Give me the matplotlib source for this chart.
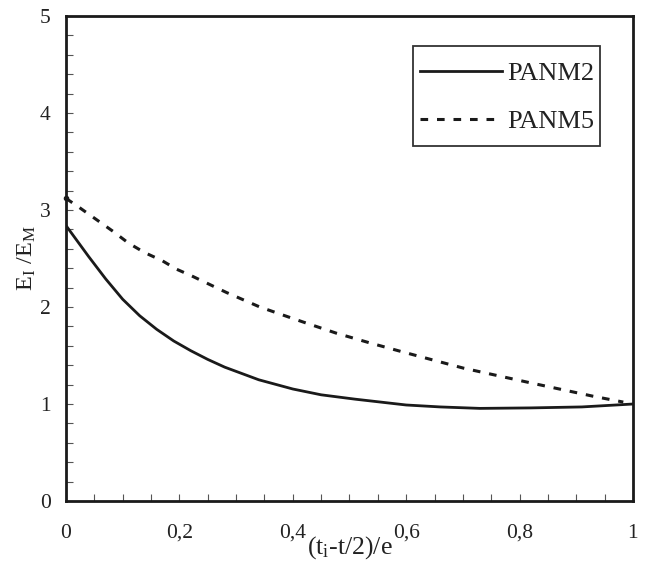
import matplotlib
matplotlib.use("Agg")
import matplotlib.pyplot as plt
from matplotlib.patches import Rectangle
from matplotlib.ticker import MultipleLocator, FuncFormatter

plt.rcParams['font.family'] = ['Liberation Serif', 'DejaVu Serif']
plt.rcParams['mathtext.fontset'] = 'custom'
plt.rcParams['mathtext.rm'] = 'Liberation Serif'
plt.rcParams['mathtext.it'] = 'Liberation Serif:italic'

# PANM2 (solid)
x_panm2 = [0.0, 0.02, 0.04, 0.07, 0.10, 0.13, 0.16, 0.19, 0.22, 0.25,
           0.28, 0.34, 0.40, 0.45, 0.51, 0.57, 0.60, 0.66, 0.73, 0.82,
           0.91, 1.0]
y_panm2 = [2.84, 2.68, 2.52, 2.29, 2.08, 1.91, 1.77, 1.65, 1.55, 1.46,
           1.38, 1.25, 1.155, 1.095, 1.05, 1.01, 0.99, 0.97, 0.955, 0.96,
           0.97, 1.0]

# PANM5 (dashed)
x_panm5 = [0.0, 0.025, 0.054, 0.083, 0.11, 0.139, 0.169, 0.195, 0.222, 0.283,
           0.342, 0.401, 0.421, 0.477, 0.536, 0.592, 0.701, 0.818, 0.93, 0.983]
y_panm5 = [3.12, 3.02, 2.90, 2.78, 2.66, 2.56, 2.48, 2.39, 2.32, 2.15,
           2.0, 1.88, 1.84, 1.73, 1.63, 1.54, 1.37, 1.22, 1.08, 1.02]

series_labels = ["PANM2", "PANM5"]
x_label = "(t$_\\mathregular{i}$-t/2)/e"
y_label = "E$_\\mathregular{I}$ /E$_\\mathregular{M}$"

ink = '#1a1a1a'
fig = plt.figure(figsize=(6.45, 5.62), dpi=100)
ax = fig.add_axes([0.1023, 0.1085, 0.879, 0.863])

ax.plot(x_panm2, y_panm2, color=ink, lw=2.0, ls='-', solid_joinstyle='round',
        label=series_labels[0])
ax.plot(x_panm5, y_panm5, color=ink, lw=2.2, ls=(0, (2.5, 2.9)),
        label=series_labels[1])
ax.plot([x_panm5[0]], [y_panm5[0]], 'o', color=ink, ms=3, clip_on=False)

ax.set_xlim(0, 1)
ax.set_ylim(0, 5)
ax.xaxis.set_major_locator(MultipleLocator(0.2))
ax.xaxis.set_minor_locator(MultipleLocator(0.05))
ax.yaxis.set_major_locator(MultipleLocator(1))
ax.yaxis.set_minor_locator(MultipleLocator(0.2))

def fmt(v, pos):
    if abs(v) < 1e-9:
        return "0"
    if abs(v - 1) < 1e-9:
        return "1"
    return f"{v:.1f}".replace('.', ',')
ax.xaxis.set_major_formatter(FuncFormatter(fmt))

ax.tick_params(which='both', direction='in', top=False, right=False,
               color='#555555', width=0.8, labelsize=15.5, labelcolor='#222222')
ax.tick_params(which='major', length=5)
ax.tick_params(which='minor', length=5)
ax.tick_params(axis='x', pad=16.5)
ax.tick_params(axis='y', pad=11)

for sp in ax.spines.values():
    sp.set_linewidth(2.0)
    sp.set_color(ink)

ax.set_xlabel(x_label, fontsize=18.5, color='#222222', labelpad=-6.5)
ax.set_ylabel(y_label, fontsize=17.5, color='#222222', labelpad=1)

# legend contents without frame, frame drawn separately
leg = ax.legend(loc='upper left', bbox_to_anchor=(0.624, 0.906), fontsize=19,
                handlelength=3.1, handletextpad=0.22, labelspacing=0.93,
                frameon=False, borderpad=0, borderaxespad=0)
for t in leg.get_texts():
    t.set_color('#222222')
ax.add_patch(Rectangle((0.612, 0.732), 0.330, 0.206, transform=ax.transAxes,
                       fill=False, edgecolor='#333333', lw=1.3, zorder=5))

fig.savefig("out.png", dpi=100)
